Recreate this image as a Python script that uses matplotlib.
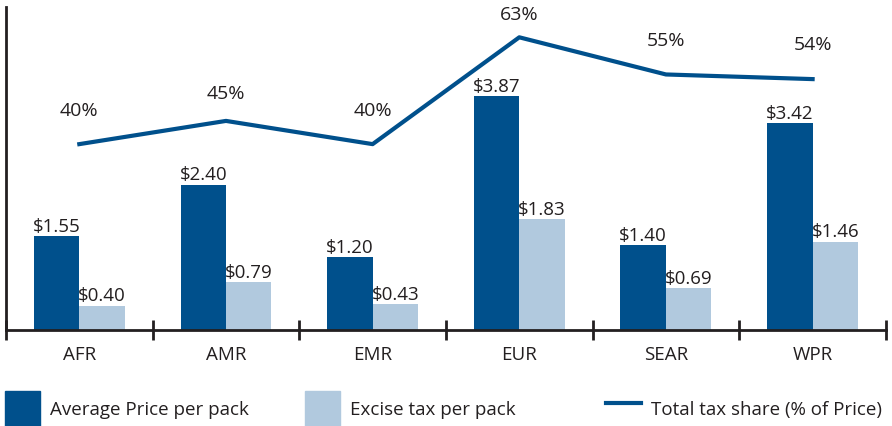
import numpy as np
import matplotlib
matplotlib.use("Agg")
import matplotlib.pyplot as plt
from matplotlib.patches import Patch
from matplotlib.lines import Line2D

plt.rcParams['font.family'] = ['Open Sans', 'DejaVu Sans']

regions = ['AFR', 'AMR', 'EMR', 'EUR', 'SEAR', 'WPR']
avg_price = [1.55, 2.40, 1.20, 3.87, 1.40, 3.42]
excise_tax = [0.40, 0.79, 0.43, 1.83, 0.69, 1.46]
tax_share = [40, 45, 40, 63, 55, 54]
# label offsets above the line (points), as placed in the original
share_label_dy = [18, 13.5, 18, 10, 18, 19]

dark = '#00508c'
light = '#b1c9de'
ink = '#231f20'

fig = plt.figure(figsize=(8.92, 4.27), dpi=100)
ax = fig.add_axes([0.0067, 0.225, 0.9865, 0.756])

x = np.arange(len(regions)) + 0.5
w = 0.31
b1 = ax.bar(x - w / 2, avg_price, w, color=dark)
b2 = ax.bar(x + w / 2, excise_tax, w, color=light)
for bars, vals in ((b1, avg_price), (b2, excise_tax)):
    for r, v in zip(bars, vals):
        ax.annotate(f'${v:.2f}', (r.get_x() + r.get_width() / 2, v),
                    xytext=(0, 1), textcoords='offset points',
                    ha='center', va='bottom', fontsize=13.5, color=ink)

ax.set_xlim(0, len(regions))
ax.set_ylim(0, 5.34)
ax.set_yticks([])
for s in ('top', 'right'):
    ax.spines[s].set_visible(False)
ax.spines['left'].set_linewidth(2)
ax.spines['left'].set_color(ink)
ax.spines['bottom'].set_linewidth(2)
ax.spines['bottom'].set_color(ink)
ax.set_xticks(np.arange(len(regions) + 1))
ax.set_xticklabels([])
ax.tick_params(axis='x', which='major', direction='inout', length=15, width=2, color=ink)
ax.set_xticks(x, minor=True)
ax.set_xticklabels(regions, minor=True, fontsize=13.5, color=ink)
ax.tick_params(axis='x', which='minor', length=0, pad=11)

ax2 = ax.twinx()
ax2.set_ylim(0, 69.5)
ax2.axis('off')
ax2.plot(x, tax_share, color=dark, lw=3)
for xi, v, dy in zip(x, tax_share, share_label_dy):
    ax2.annotate(f'{v}%', (xi, v), xytext=(0, dy), textcoords='offset points',
                 ha='center', va='bottom', fontsize=14, color=ink)

leg_kw = dict(frameon=False, fontsize=13.5, handlelength=1.87, handleheight=2.5,
              handletextpad=0.53, borderpad=0, borderaxespad=0, labelcolor=ink)
fig.legend(handles=[Patch(color=dark)], labels=['Average Price per pack'],
           loc='lower left', bbox_to_anchor=(0.0056, 0.0), **leg_kw)
fig.legend(handles=[Patch(color=light)], labels=['Excise tax per pack'],
           loc='lower left', bbox_to_anchor=(0.342, 0.0), **leg_kw)
fig.legend(handles=[Line2D([], [], color=dark, lw=3)], labels=['Total tax share (% of Price)'],
           loc='lower left', bbox_to_anchor=(0.679, 0.0), **leg_kw)

fig.savefig('out.png', dpi=100)
